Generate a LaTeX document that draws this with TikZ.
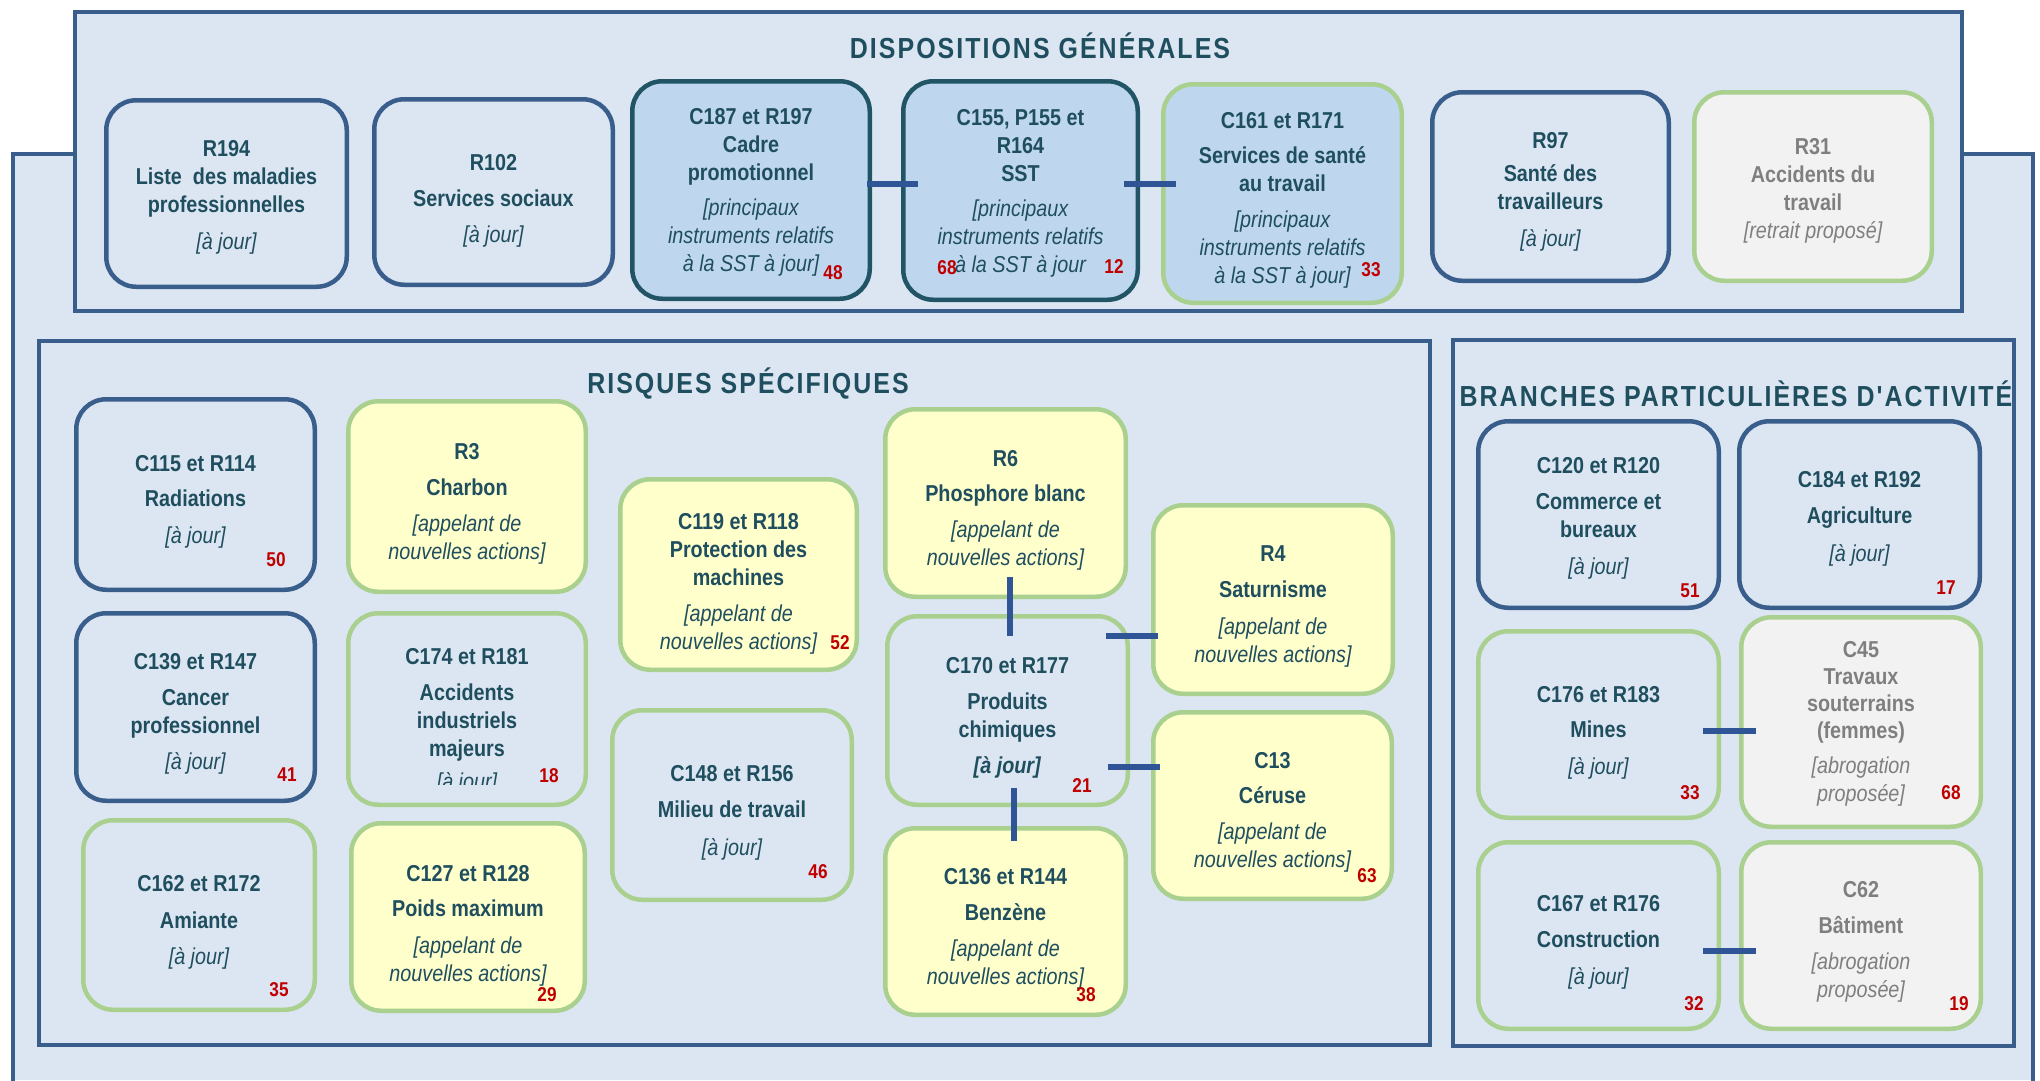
\documentclass[tikz,border=0pt]{standalone}
\usepackage{fontspec}
\setmainfont[FakeStretch=0.86]{Liberation Sans}
\newfontfamily\spacedfont[FakeStretch=0.86,LetterSpace=7]{Liberation Sans}
\usetikzlibrary{calc}
\definecolor{panelfill}{RGB}{220,230,242}
\definecolor{framecol}{RGB}{58,94,140}
\definecolor{tealcol}{RGB}{33,84,100}
\definecolor{textcol}{RGB}{31,78,95}
\definecolor{instfill}{RGB}{190,215,238}
\definecolor{greencol}{RGB}{169,208,142}
\definecolor{yellowfill}{RGB}{255,255,204}
\definecolor{grayfill}{RGB}{242,242,242}
\definecolor{graytext}{RGB}{127,127,127}
\definecolor{numcol}{RGB}{192,0,0}
\definecolor{linkcol}{RGB}{47,85,151}
\newcommand{\statut}[1]{{\mdseries\itshape #1}}

\begin{document}
\begin{tikzpicture}[x=1pt, y=-1pt,
  box/.style={rounded corners=30pt, line width=4.5pt, inner sep=0pt, outer sep=0pt},
  bluebox/.style={box, draw=framecol, fill=panelfill},
  instbox/.style={box, draw=tealcol, fill=instfill},
  greeninst/.style={box, draw=greencol, fill=instfill},
  greenbox/.style={box, draw=greencol, fill=panelfill},
  yellowbox/.style={box, draw=greencol, fill=yellowfill},
  graybox/.style={box, draw=greencol, fill=grayfill},
  boxtext/.style={align=center, inner sep=0pt, text depth=0pt, text=textcol,
    font=\fontsize{23}{28}\selectfont\bfseries},
  graytxt/.style={boxtext, text=graytext},
  frame/.style={draw=framecol, line width=4.5pt, fill=panelfill},
  heading/.style={anchor=base, inner sep=0pt, text=textcol, font=\fontsize{29}{32}\selectfont\spacedfont\bfseries},
  num/.style={inner sep=0pt, text=numcol, font=\fontsize{20}{22}\selectfont\bfseries},
  link/.style={draw=linkcol, line width=6pt}]
  \useasboundingbox (0,0) rectangle (2040,1080);
  \fill[white] (0,0) rectangle (2040,1080);

  % frames
  \fill[panelfill] (13,154) rectangle (2033,1080);
  \draw[framecol, line width=4.5pt] (13,1090) |- (2033,154) -- (2033,1090);
  \draw[frame] (75,12) rectangle (1962,311);
  \draw[frame] (39,341) rectangle (1430,1045);
  \draw[frame] (1453,340) rectangle (2014,1046);

  \node[heading] (ttlgen) at (1040,58) {DISPOSITIONS GÉNÉRALES};
  \node[heading] (ttlrisk) at (748,393) {RISQUES SPÉCIFIQUES};
  \node[heading] (ttlbranch) at (1736,406) {BRANCHES PARTICULIÈRES D'ACTIVITÉ};

  % dispositions generales
  \node[bluebox, minimum width=240.5, minimum height=186.5] (r194) at (226.5,193.5) {};
  \node[boxtext] (r194txt) at ($(r194)+(0,1.8)$)
    {R194\\Liste~ des maladies\\professionnelles\\[9pt]\statut{[à jour]}};
  \node[bluebox, minimum width=238.5, minimum height=185.5] (r102) at (493.5,192) {};
  \node[boxtext] (r102txt) at ($(r102)+(0,6.7)$)
    {R102\\[8pt]Services sociaux\\[8pt]\statut{[à jour]}};
  \node[instbox, minimum width=237.5, minimum height=217.5] (c187) at (751,190) {};
  \node[boxtext] (c187txt) at ($(c187)+(0,0.2)$)
    {C187 et R197\\Cadre\\promotionnel\\[7pt]\statut{[principaux}\\\statut{instruments relatifs}\\\statut{à la SST à jour]}};
  \node[instbox, minimum width=234.5, minimum height=218.5] (c155) at (1020.5,190.5) {};
  \node[boxtext] (c155txt) at ($(c155)+(0,0.2)$)
    {C155, P155 et\\R164\\SST\\[7pt]\statut{[principaux}\\\statut{instruments relatifs}\\\statut{à la SST à jour}};
  \node[greeninst, minimum width=238.5, minimum height=218.5] (c161) at (1282.5,193.5) {};
  \node[boxtext] (c161txt) at ($(c161)+(0,4.1)$)
    {C161 et R171\\[7pt]Services de santé\\au travail\\[8pt]\statut{[principaux}\\\statut{instruments relatifs}\\\statut{à la SST à jour]}};
  \node[bluebox, minimum width=236.5, minimum height=188.5] (r97) at (1550.5,186.5) {};
  \node[boxtext] (r97txt) at ($(r97)+(0,2.8)$)
    {R97\\[5pt]Santé des\\travailleurs\\[9pt]\statut{[à jour]}};
  \node[graybox, minimum width=237.5, minimum height=188.5] (r31) at (1813,186.5) {};
  \node[graytxt] (r31txt) at ($(r31)+(0,1.5)$)
    {R31\\Accidents du\\travail\\\statut{[retrait proposé]}};

  % risques specifiques
  \node[bluebox, minimum width=238.5, minimum height=190.5] (c115) at (195.5,494.5) {};
  \node[boxtext] (c115txt) at ($(c115)+(0,5)$)
    {C115 et R114\\[7pt]Radiations\\[9pt]\statut{[à jour]}};
  \node[bluebox, minimum width=238.5, minimum height=187.5] (c139) at (195.5,707) {};
  \node[boxtext] (c139txt) at ($(c139)+(0,4.8)$)
    {C139 et R147\\[8pt]Cancer\\professionnel\\[8pt]\statut{[à jour]}};
  \node[greenbox, minimum width=231.5, minimum height=189.5] (c162) at (199,915) {};
  \node[boxtext] (c162txt) at ($(c162)+(0,4.8)$)
    {C162 et R172\\[9pt]Amiante\\[8pt]\statut{[à jour]}};
  \node[yellowbox, minimum width=237.5, minimum height=190.5] (r3) at (467,496.5) {};
  \node[boxtext] (r3txt) at ($(r3)+(0,4.8)$)
    {R3\\[8pt]Charbon\\[8pt]\statut{[appelant de}\\\statut{nouvelles actions]}};
  \node[greenbox, minimum width=237.5, minimum height=191.5] (c174) at (467,709) {};
  \begin{scope}
    \clip (c174.north west) rectangle ($(c174.south east)+(0,-20)$);
    \node[boxtext] (c174txt) at ($(c174)+(0,10)$)
      {C174 et R181\\[8pt]Accidents\\industriels\\majeurs\\[5pt]\statut{[à jour]}};
  \end{scope}
  \node[yellowbox, minimum width=233.5, minimum height=187.5] (c127) at (468,917) {};
  \node[boxtext] (c127txt) at ($(c127)+(0,6.1)$)
    {C127 et R128\\[7pt]Poids maximum\\[9pt]\statut{[appelant de}\\\statut{nouvelles actions]}};
  \node[yellowbox, minimum width=236.5, minimum height=190.5] (c119) at (738.5,574.5) {};
  \node[boxtext] (c119txt) at ($(c119)+(0,7.4)$)
    {C119 et R118\\Protection des\\machines\\[8pt]\statut{[appelant de}\\\statut{nouvelles actions]}};
  \node[greenbox, minimum width=239.5, minimum height=189.5] (c148) at (732,805) {};
  \node[boxtext] (c148txt) at ($(c148)+(0,5.8)$)
    {C148 et R156\\[8pt]Milieu de travail\\[10pt]\statut{[à jour]}};
  \node[yellowbox, minimum width=240.5, minimum height=187.5] (r6) at (1005.5,503) {};
  \node[boxtext] (r6txt) at ($(r6)+(0,4.8)$)
    {R6\\[7pt]Phosphore blanc\\[8pt]\statut{[appelant de}\\\statut{nouvelles actions]}};
  \node[greenbox, minimum width=240.5, minimum height=188.5] (c170) at (1007.5,710.5) {};
  \node[boxtext] (c170txt) at ($(c170)+(0,5.4)$)
    {C170 et R177\\[8pt]Produits\\chimiques\\[8pt]\textit{[à jour]}};
  \node[yellowbox, minimum width=240.5, minimum height=186.5] (c136) at (1005.5,921.5) {};
  \node[boxtext] (c136txt) at ($(c136)+(0,4.8)$)
    {C136 et R144\\[8pt]Benzène\\[8pt]\statut{[appelant de}\\\statut{nouvelles actions]}};
  \node[yellowbox, minimum width=239.5, minimum height=188.5] (r4) at (1273,599.5) {};
  \node[boxtext] (r4txt) at ($(r4)+(0,4.8)$)
    {R4\\[8pt]Saturnisme\\[9pt]\statut{[appelant de}\\\statut{nouvelles actions]}};
  \node[yellowbox, minimum width=238.5, minimum height=186.5] (c13) at (1272.5,805.5) {};
  \node[boxtext] (c13txt) at ($(c13)+(0,4.8)$)
    {C13\\[7pt]Céruse\\[8pt]\statut{[appelant de}\\\statut{nouvelles actions]}};

  % branches particulieres
  \node[bluebox, minimum width=240.5, minimum height=186.5] (c120) at (1598.5,514.5) {};
  \node[boxtext] (c120txt) at ($(c120)+(0,1.8)$)
    {C120 et R120\\[8pt]Commerce et\\bureaux\\[9pt]\statut{[à jour]}};
  \node[bluebox, minimum width=240.5, minimum height=186.5] (c184) at (1859.5,514.5) {};
  \node[boxtext] (c184txt) at ($(c184)+(0,1.5)$)
    {C184 et R192\\[8pt]Agriculture\\[10pt]\statut{[à jour]}};
  \node[greenbox, minimum width=240.5, minimum height=186.5] (c176) at (1598.5,724.5) {};
  \node[boxtext] (c176txt) at ($(c176)+(0,5.8)$)
    {C176 et R183\\[7pt]Mines\\[9pt]\statut{[à jour]}};
  \node[graybox, minimum width=239.5, minimum height=209.5] (c45) at (1861,722) {};
  \node[graytxt] (c45txt) at ($(c45)+(0,-1)$)
    {C45\\[-1pt]Travaux\\[-1pt]souterrains\\[-1pt](femmes)\\[7pt]\statut{[abrogation}\\\statut{proposée]}};
  \node[greenbox, minimum width=240.5, minimum height=186.5] (c167) at (1598.5,935.5) {};
  \node[boxtext] (c167txt) at ($(c167)+(0,4.1)$)
    {C167 et R176\\[8pt]Construction\\[9pt]\statut{[à jour]}};
  \node[graybox, minimum width=239.5, minimum height=186.5] (c62) at (1861,935.5) {};
  \node[graytxt] (c62txt) at ($(c62)+(0,3.8)$)
    {C62\\[8pt]Bâtiment\\[8pt]\statut{[abrogation}\\\statut{proposée]}};

  % links
  \draw[link] ($(c187.east)+(-3,-6)$) -- ($(c155.west)+(15,-6.5)$);
  \draw[link] ($(c155.east)+(-14,-6.5)$) -- ($(c161.west)+(13,-9.5)$);
  \draw[link] ($(r6.south)+(4.5,-20)$) -- ($(c170.north)+(2.5,20)$);
  \draw[link] ($(c170.east)+(-22,-74.5)$) -- ($(r4.west)+(5,36.5)$);
  \draw[link] ($(c170.east)+(-20,56.5)$) -- ($(c13.west)+(7,-38.5)$);
  \draw[link] ($(c170.south)+(6.5,-17)$) -- ($(c136.north)+(8.5,13)$);
  \draw[link] ($(c176.east)+(-16,6.5)$) -- ($(c45.west)+(15,9)$);
  \draw[link] ($(c167.east)+(-16,15.5)$) -- ($(c62.west)+(15,15.5)$);

  % counts
  \foreach \v/\x/\y [count=\i] in {48/833/273, 68/947/268, 12/1114/267, 33/1371/270,
      50/276/560, 52/840/643, 41/287/775, 18/549/776, 35/279/990, 29/547/995,
      46/818/872, 21/1082/786, 63/1367/876, 38/1086/995, 51/1690/591, 17/1946/588,
      33/1690/793, 68/1951/793, 32/1694/1004, 19/1959/1004}
    \node[num] (num\i) at (\x,\y) {\v};
\end{tikzpicture}
\end{document}
